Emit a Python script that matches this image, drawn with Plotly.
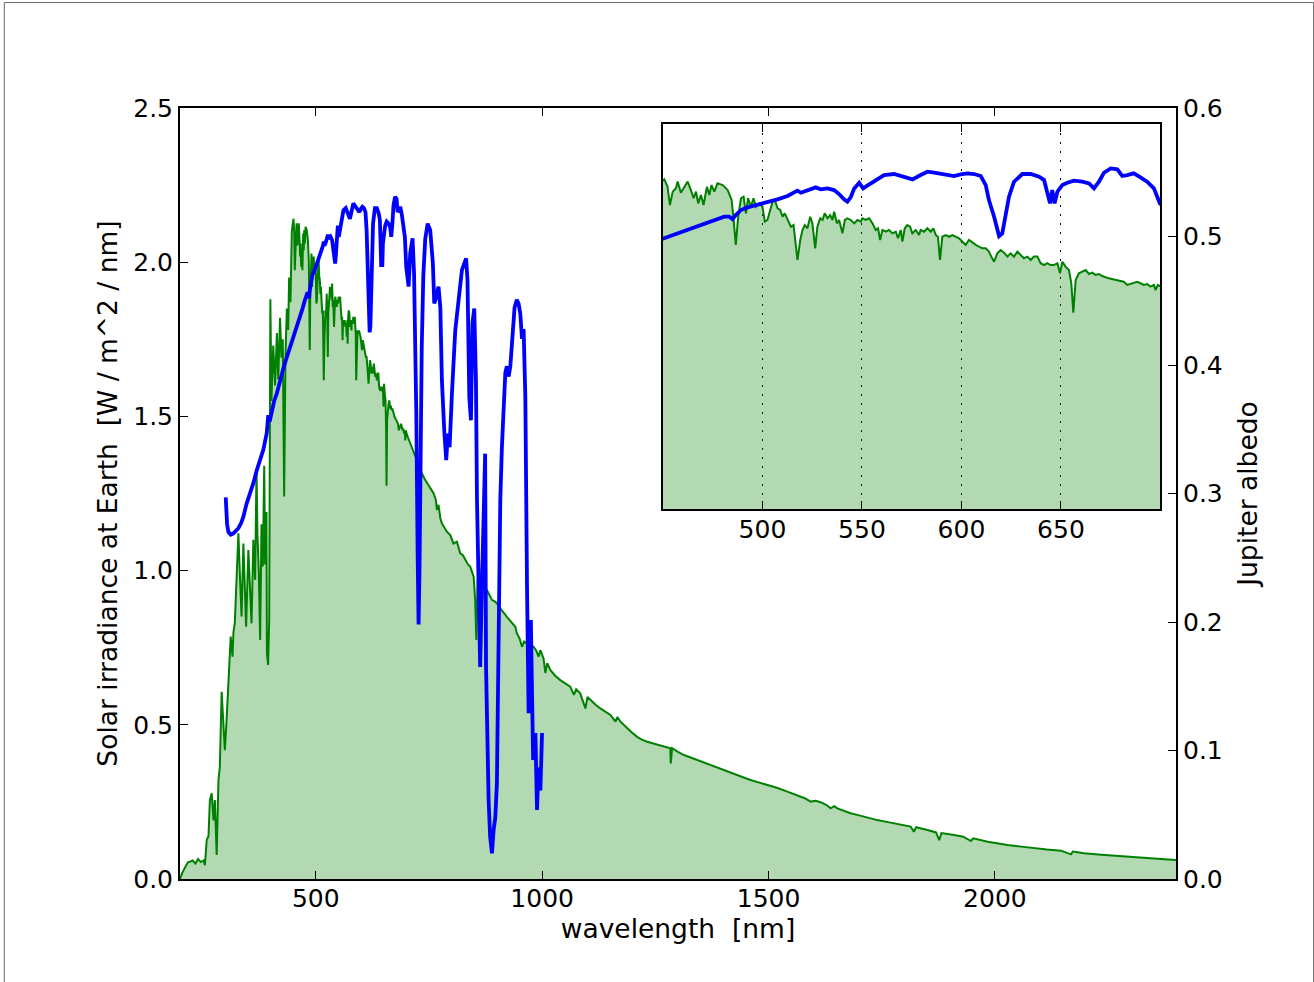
import plotly.graph_objects as go

# ---------------- data ----------------
# Solar irradiance at Earth [W / m^2 / nm]
solar_wl = [
    200, 205, 212, 218, 222, 228, 234, 240, 246, 252, 255, 259, 263, 266, 270, 274, 277, 281, 285, 288,
    292, 296, 299, 302, 307, 312, 316, 318, 321, 325, 329, 333, 336, 340, 346, 351, 355, 358, 362, 366,
    369, 371, 374, 377, 380, 383, 386, 388, 391, 392, 394.6, 397, 399.6, 402, 406, 410, 414, 417, 421, 424,
    427, 430, 433, 436, 439, 441, 444, 447,
    450.7, 452.3, 453.5, 454.9, 456.5, 457.4, 459.0, 460.4, 462.4, 464.0, 465.4, 466.6, 467.7, 469.1, 470.4,
    472.1, 473.3, 474.4, 475.8, 477.4, 480.0, 482.5, 484.5, 485.5, 486.6, 487.8, 489.2, 490.5, 491.7, 492.8,
    494.2, 495.5, 496.7, 498.4, 500.0, 501.2, 502.5, 503.9, 505.1, 506.2, 507.6, 508.9, 510.1, 511.2, 512.6,
    514.3, 515.6, 516.8, 517.6, 519.0, 520.1, 521.3, 522.6, 524.0, 525.1, 526.5, 527.6, 529.0, 530.2, 531.3,
    532.7, 534.0, 535.2, 536.0, 537.4, 538.5, 540.2, 541.4, 542.7, 544.4, 546.1, 547.7, 549.4, 550.2, 551.9,
    553.6, 555.3, 556.9, 558.1, 559.1, 560.3, 562.0, 563.6, 565.3, 567.0, 568.1, 569.5, 570.3, 571.5, 572.8,
    574.2, 575.3, 577.0, 578.7, 579.5, 581.2, 582.9, 584.6, 585.9, 587.1, 588.2, 589.2, 590.4, 592.1, 593.8,
    595.4, 597.1, 598.8, 600.5, 602.1, 603.8, 605.5, 607.2, 608.8, 610.5, 612.2, 613.8, 615.0, 616.4, 618.0,
    619.7, 621.4, 623.1, 624.7, 626.4, 628.1, 629.7, 631.4, 633.1, 634.8, 636.4, 638.1, 639.8, 641.5, 643.1,
    644.8, 646.5, 648.2, 649.5, 650.7, 652.3, 654.0, 655.2, 656.2, 657.4, 659.0, 660.7, 662.4, 664.1, 665.7,
    667.4, 669.1, 670.7, 672.4, 674.1, 676.6, 679.1, 681.6, 683.3, 685.0, 686.6, 688.3, 690.0, 691.7, 693.3,
    695.0, 696.7, 697.5, 698.7, 699.7,
    704, 708.5, 714, 719.6, 725, 730.6, 736, 741.7, 749, 755, 760, 765, 767.5, 771, 775, 778.5, 784, 789.6,
    797, 804, 811.7, 819, 825, 830, 836, 841, 848.6, 852, 854.5, 857.4, 862, 867, 872, 878, 884, 889, 895,
    900, 906, 911, 917, 922, 928, 933, 940.7, 944, 950, 955.4, 960, 966.5, 973, 981, 987, 992, 996, 1003,
    1007, 1011, 1018, 1028, 1040, 1050, 1062, 1070, 1075, 1084, 1095.5, 1100, 1106.5, 1118, 1128.6, 1140,
    1150.7, 1162, 1166, 1173, 1187.6, 1198, 1209.7, 1220, 1232, 1245, 1254, 1270, 1283, 1284, 1287, 1300,
    1313, 1328, 1342, 1357, 1372, 1386, 1401, 1416, 1431, 1445, 1460, 1480, 1500, 1520, 1540, 1555, 1570.8,
    1580, 1593, 1604, 1615, 1628, 1637, 1645, 1652, 1666, 1681, 1696, 1711, 1725, 1740, 1758, 1777, 1795,
    1814, 1821, 1826, 1851, 1870, 1877, 1882, 1910, 1930, 1947, 1952, 1984, 2005, 2028, 2058, 2087, 2115,
    2146, 2168, 2172, 2197, 2235, 2271, 2310, 2344, 2375, 2400,
]
solar_irr = [
    0.00, 0.02, 0.04, 0.055, 0.056, 0.06, 0.05, 0.065, 0.055, 0.06, 0.045, 0.126, 0.14, 0.256, 0.278, 0.19,
    0.256, 0.078, 0.321, 0.364, 0.607, 0.472, 0.418, 0.49, 0.64, 0.786, 0.721, 0.80, 0.829, 1.013, 1.121,
    0.959, 0.851, 1.088, 0.818, 1.067, 0.93, 0.829, 1.10, 0.97, 1.33, 1.12, 1.00, 0.775, 1.15, 1.013, 1.34,
    1.02, 1.19, 0.732, 0.694, 0.84, 1.88, 1.55, 1.73, 1.60, 1.77, 1.62, 1.82, 1.69, 1.75, 1.24, 1.70, 1.85,
    1.78, 1.95, 1.87, 2.10,
    2.141, 2.093, 1.974, 2.061, 2.083, 2.126, 2.054, 2.083, 2.126, 2.072, 2.018, 2.061, 1.985, 2.039, 1.974,
    2.093, 2.039, 2.104, 2.061, 2.115, 2.104, 2.072, 2.007, 1.877, 1.715, 1.898, 2.018, 2.028, 1.920, 2.018,
    1.963, 2.018, 1.963, 1.985, 1.963, 1.866, 1.877, 1.942, 1.996, 2.007, 1.953, 1.942, 1.898, 1.920, 1.877,
    1.833, 1.844, 1.725, 1.617, 1.747, 1.812, 1.844, 1.823, 1.898, 1.855, 1.693, 1.833, 1.888, 1.877, 1.920,
    1.888, 1.909, 1.877, 1.931, 1.855, 1.877, 1.790, 1.877, 1.888, 1.877, 1.855, 1.877, 1.866, 1.888, 1.877,
    1.888, 1.855, 1.812, 1.823, 1.747, 1.812, 1.801, 1.812, 1.790, 1.801, 1.758, 1.812, 1.736, 1.823, 1.844,
    1.833, 1.790, 1.812, 1.779, 1.812, 1.801, 1.823, 1.801, 1.823, 1.779, 1.768, 1.617, 1.768, 1.779, 1.768,
    1.779, 1.768, 1.758, 1.736, 1.715, 1.747, 1.730, 1.715, 1.704, 1.693, 1.693, 1.671, 1.639, 1.606, 1.660,
    1.682, 1.665, 1.639, 1.660, 1.639, 1.671, 1.650, 1.628, 1.639, 1.617, 1.639, 1.639, 1.596, 1.584, 1.596,
    1.584, 1.584, 1.596, 1.531, 1.606, 1.574, 1.552, 1.466, 1.275, 1.487, 1.531, 1.541, 1.552, 1.526, 1.535,
    1.520, 1.526, 1.513, 1.505, 1.498, 1.491, 1.483, 1.476, 1.455, 1.461, 1.466, 1.476, 1.466, 1.455, 1.461,
    1.444, 1.455, 1.422, 1.455, 1.448,
    1.43, 1.413, 1.39, 1.369, 1.35, 1.326, 1.31, 1.294, 1.278, 1.262, 1.251, 1.23, 1.197, 1.213, 1.17, 1.153,
    1.14, 1.126, 1.115, 1.088, 1.094, 1.056, 1.05, 1.034, 1.02, 1.013, 0.980, 0.905, 0.775, 0.970, 0.95,
    0.959, 0.94, 0.937, 0.92, 0.905, 0.90, 0.894, 0.88, 0.872, 0.86, 0.850, 0.84, 0.829, 0.818, 0.797, 0.78,
    0.753, 0.77, 0.764, 0.76, 0.753, 0.74, 0.721, 0.742, 0.715, 0.668, 0.70, 0.678, 0.66, 0.645, 0.635,
    0.624, 0.597, 0.615, 0.602, 0.553, 0.59, 0.580, 0.565, 0.553, 0.543, 0.532, 0.510, 0.525, 0.510, 0.489,
    0.475, 0.461, 0.452, 0.445, 0.440, 0.435, 0.428, 0.424, 0.375, 0.424, 0.412, 0.402, 0.394, 0.386, 0.378,
    0.370, 0.362, 0.353, 0.345, 0.337, 0.329, 0.321, 0.313, 0.305, 0.295, 0.284, 0.276, 0.267, 0.262, 0.251,
    0.254, 0.249, 0.240, 0.229, 0.236, 0.229, 0.221, 0.213, 0.208, 0.202, 0.197, 0.191, 0.186, 0.181, 0.175,
    0.170, 0.153, 0.168, 0.159, 0.151, 0.126, 0.149, 0.143, 0.137, 0.123, 0.132, 0.121, 0.115, 0.110, 0.105,
    0.0996, 0.0955, 0.0919, 0.080, 0.089, 0.0833, 0.079, 0.0746, 0.071, 0.067, 0.064, 0.0616,
]

# Jupiter albedo
jup_wl = [
    301, 302.5, 304, 307, 312, 318, 324, 329, 335, 340, 347, 355, 362, 369.5, 377, 384, 391.6, 395, 398, 403,
    408, 414, 421, 428.8, 436, 443.7,
    450.7, 455.7, 460.7, 465.7, 470.8, 475.8, 480.8, 483.3, 485.0, 486.6, 489.2, 492.5, 497.5, 502.5, 507.6,
    512.6, 515.9, 517.6, 519.3, 522.6, 526.8, 529.3, 532.7, 536.0, 538.5, 541.0, 542.7, 544.4, 546.1, 548.6,
    550.6, 551.9, 554.4, 557.8, 561.1, 566.1, 569.5, 575.4, 579.5, 582.9, 586.2, 589.6, 592.9, 596.3, 599.6,
    603.0, 606.3, 609.7, 612.2, 613.8, 616.4, 618.9, 620.5, 622.2, 623.9, 626.4, 630.6, 634.8, 639.0, 641.5,
    643.1, 644.5, 645.6, 646.8, 648.2, 650.7, 653.2, 656.5, 660.7, 664.1, 666.6, 669.1, 671.6, 675.0, 678.3,
    680.8, 683.3, 686.6, 690.0, 693.3, 696.7, 699.7,
    705, 708.5, 713.7, 717, 720, 722, 725, 727, 729, 731, 734, 737.5, 741.7, 747, 752.7, 758.6, 761.6, 766,
    771, 775, 778.5, 783.7, 788, 791.8, 795.5, 800.7, 808, 815.4, 822.8, 828, 832, 835, 839, 842.7, 846, 850,
    853.7, 856, 859.6, 863, 867, 870.6, 874, 876, 878.5, 881.7, 885, 889, 892.7, 896.5, 900, 903.8, 907.5,
    911, 915, 918.6, 922, 926, 929.6, 934.8, 939, 944, 948, 951.7, 955.4, 959, 962.8, 966.5, 970, 975, 980,
    985, 988.6, 992, 996, 999.7,
]
jup_alb = [
    0.297, 0.283, 0.276, 0.270, 0.268, 0.269, 0.271, 0.273, 0.277, 0.282, 0.292, 0.300, 0.308, 0.318, 0.326,
    0.334, 0.347, 0.361, 0.356, 0.365, 0.372, 0.378, 0.388, 0.398, 0.406, 0.414,
    0.4218, 0.4270, 0.4322, 0.4389, 0.4441, 0.4504, 0.4556, 0.4556, 0.4519, 0.4582, 0.4660, 0.4701, 0.4738,
    0.4789, 0.4826, 0.4878, 0.4929, 0.4961, 0.4929, 0.4961, 0.5013, 0.4982, 0.4997, 0.4971, 0.4909, 0.4826,
    0.4789, 0.4862, 0.4997, 0.5085, 0.4997, 0.5023, 0.5075, 0.5154, 0.5205, 0.5221, 0.5190, 0.5138, 0.5205,
    0.5257, 0.5241, 0.5221, 0.5205, 0.5190, 0.5216, 0.5231, 0.5221, 0.5190, 0.5049, 0.4815, 0.4556, 0.4254,
    0.4296, 0.4556, 0.4867, 0.5101, 0.5221, 0.5221, 0.5179, 0.5127, 0.4945, 0.4764, 0.4971, 0.4764, 0.4945,
    0.5049, 0.5085, 0.5117, 0.5101, 0.5075, 0.4997, 0.5101, 0.5241, 0.5309, 0.5294, 0.5190, 0.5205, 0.5231,
    0.5169, 0.5101, 0.4997, 0.4764,
    0.461, 0.487, 0.4986, 0.471, 0.42, 0.362, 0.25, 0.198, 0.24, 0.32, 0.414, 0.47, 0.498, 0.51, 0.505,
    0.479, 0.448, 0.453, 0.461, 0.445, 0.388, 0.349, 0.326, 0.3466, 0.336, 0.378, 0.427, 0.4506, 0.474,
    0.479, 0.483, 0.466, 0.375, 0.357, 0.4325, 0.444, 0.388, 0.295, 0.217, 0.165, 0.23, 0.295, 0.331,
    0.165, 0.10, 0.0615, 0.033, 0.02, 0.038, 0.048, 0.0747, 0.217, 0.295, 0.336, 0.3626, 0.394, 0.399,
    0.391, 0.399, 0.4245, 0.4446, 0.4507, 0.4476, 0.4398, 0.4204, 0.428, 0.375, 0.2275, 0.129, 0.2015,
    0.0926, 0.1136, 0.0537, 0.087, 0.069, 0.1136,
]

main_xticks = [500, 1000, 1500, 2000]
left_yticks = [0.0, 0.5, 1.0, 1.5, 2.0, 2.5]
right_yticks = [0.0, 0.1, 0.2, 0.3, 0.4, 0.5, 0.6]
inset_xticks = [500, 550, 600, 650]

# ---------------- figure ----------------
GREEN = "rgb(0,128,0)"
FILL = "rgba(0,128,0,0.3)"
BLUE = "rgb(0,0,255)"
FONT = dict(family="DejaVu Sans", size=25, color="black")
TFONT = dict(family="DejaVu Sans", size=26.5, color="black")

fig = go.Figure()

# main plot
fig.add_trace(go.Scatter(x=solar_wl, y=solar_irr, mode="lines", line=dict(color=GREEN, width=2),
                         fill="tozeroy", fillcolor=FILL, xaxis="x", yaxis="y", showlegend=False))
fig.add_trace(go.Scatter(x=jup_wl, y=jup_alb, mode="lines", line=dict(color=BLUE, width=3.8),
                         xaxis="x", yaxis="y2", showlegend=False))
# inset
fig.add_trace(go.Scatter(x=solar_wl, y=solar_irr, mode="lines", line=dict(color=GREEN, width=2),
                         fill="tozeroy", fillcolor=FILL, xaxis="x2", yaxis="y3", showlegend=False))
fig.add_trace(go.Scatter(x=jup_wl, y=jup_alb, mode="lines", line=dict(color=BLUE, width=3.8),
                         xaxis="x2", yaxis="y4", showlegend=False))

axis_common = dict(showgrid=False, zeroline=False, linecolor="black", linewidth=2,
                   tickcolor="black", tickwidth=1, ticklen=8, ticks="inside", tickfont=FONT)

fig.update_layout(
    width=1314, height=982,
    margin=dict(l=180, r=138, t=108, b=103),
    paper_bgcolor="white", plot_bgcolor="white",
    font=FONT,
    xaxis=dict(**axis_common, domain=[0, 1], range=[200, 2400], anchor="y", showline=True,
               mirror="ticks", tickvals=main_xticks, ticktext=[str(v) for v in main_xticks],
               ticklabelstandoff=-4,
               title=dict(text="wavelength \u00a0[nm]", font=TFONT, standoff=4)),
    yaxis=dict(**axis_common, domain=[0, 1], range=[0, 2.5], anchor="x", showline=True,
               tickvals=left_yticks, ticktext=[f"{v:.1f}" for v in left_yticks],
               title=dict(text="Solar irradiance at Earth \u00a0[W / m^2 / nm]", font=TFONT, standoff=8)),
    yaxis2=dict(**axis_common, range=[0, 0.6], overlaying="y", side="right", anchor="x", showline=True,
                tickvals=right_yticks, ticktext=[f"{v:.1f}" for v in right_yticks],
                title=dict(text="Jupiter albedo", font=TFONT, standoff=17)),
    xaxis2=dict(showgrid=True, gridcolor="black", griddash="2px,7px", gridwidth=1, zeroline=False,
                linecolor="black", linewidth=2, tickcolor="black", tickwidth=1, ticklen=8,
                ticks="inside", tickfont=FONT, domain=[0.4849, 0.9844], range=[450, 700],
                anchor="y3", showline=True, mirror="ticks", tickvals=inset_xticks,
                ticktext=[str(v) for v in inset_xticks], ticklabelstandoff=-3),
    yaxis3=dict(domain=[0.4799, 0.9792], range=[0, 2.5], anchor="x2", showline=True, mirror=True,
                linecolor="black", linewidth=2, showgrid=False, zeroline=False, ticks="",
                showticklabels=False),
    yaxis4=dict(range=[0, 0.6], overlaying="y3", anchor="x2", side="right", showline=False,
                showgrid=False, zeroline=False, ticks="", showticklabels=False),
)

# thin figure border seen around the reference image
fig.add_shape(type="rect", xref="paper", yref="paper", x0=-0.1764, x1=1.1382, y0=-0.16, y1=1.1368,
              line=dict(color="#666666", width=1), fillcolor="rgba(0,0,0,0)", layer="above")

fig.write_html("out.html")
